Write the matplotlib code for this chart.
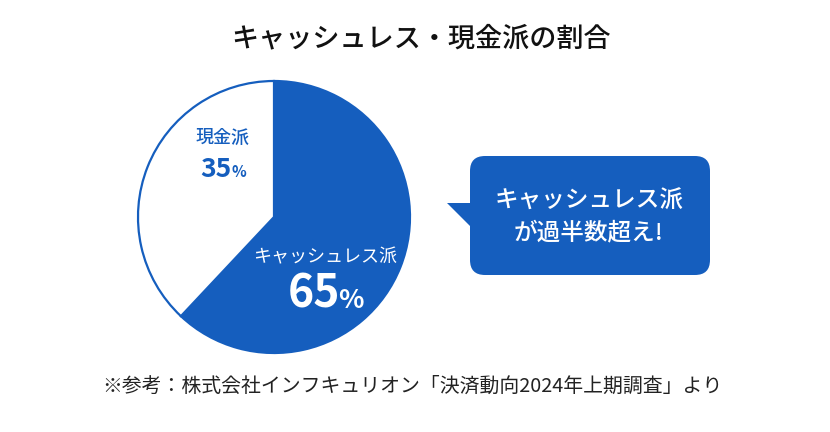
import matplotlib
matplotlib.use("Agg")
import matplotlib.pyplot as plt
from matplotlib.patches import FancyBboxPatch, Polygon

plt.rcParams['font.family'] = ['Noto Sans CJK JP', 'DejaVu Sans']

# データ
groups = ["キャッシュレス派", "現金派"]
shares = [62, 38]          # 図から読んだ扇形の大きさ
share_labels = ["65", "35"]  # 図に書かれた数値
colors = ["#155EBE", "white"]
blue = "#155EBE"

title = "キャッシュレス・現金派の割合"
bubble_text = "キャッシュレス派\nが過半数超え!"
source = "※参考：株式会社インフキュリオン「決済動向2024年上期調査」より"

W, H = 830, 432
fig = plt.figure(figsize=(W / 100, H / 100), dpi=100)
ax = fig.add_axes([0, 0, 1, 1])

def Y(y):
    return H - y

ax.pie(shares, colors=colors, startangle=90, counterclock=False,
       center=(274, Y(217)), radius=136,
       wedgeprops=dict(edgecolor=blue, linewidth=1.6))
ax.set_xlim(0, W)
ax.set_ylim(0, H)
ax.set_aspect("equal")
ax.axis("off")

# 円グラフ内のラベル
ax.text(223, Y(138), groups[1], color=blue, fontsize=13, fontweight=500,
        ha="center", va="center")
ax.text(232, Y(177), share_labels[1], color=blue, fontsize=19, fontweight="bold",
        ha="right", va="baseline")
ax.text(231, Y(177), "%", color=blue, fontsize=11, fontweight="bold",
        ha="left", va="baseline")

ax.text(325, Y(257), groups[0], color="white", fontsize=13,
        ha="center", va="center")
ax.text(340, Y(308), share_labels[0], color="white", fontsize=32, fontweight="bold",
        ha="right", va="baseline")
ax.text(338, Y(308), "%", color="white", fontsize=19, fontweight="bold",
        ha="left", va="baseline")

# 吹き出し
box = FancyBboxPatch((470 + 15, Y(275) + 15), 240 - 30, 119 - 30,
                     boxstyle="round,pad=15", facecolor=blue, edgecolor="none")
ax.add_patch(box)
ax.add_patch(Polygon([(447, Y(203)), (473, Y(203)), (473, Y(229))],
                     closed=True, facecolor=blue, edgecolor="none"))
ax.text(589, Y(217), bubble_text, color="white", fontsize=17, fontweight=500,
        ha="center", va="center", linespacing=1.5)

# タイトルと出典
ax.text(421, Y(39), title, color="#111111", fontsize=19.5, fontweight=500,
        ha="center", va="center")
ax.text(412, Y(386), source, color="#222222", fontsize=14.3,
        ha="center", va="center")

fig.savefig("out.png", dpi=100)
